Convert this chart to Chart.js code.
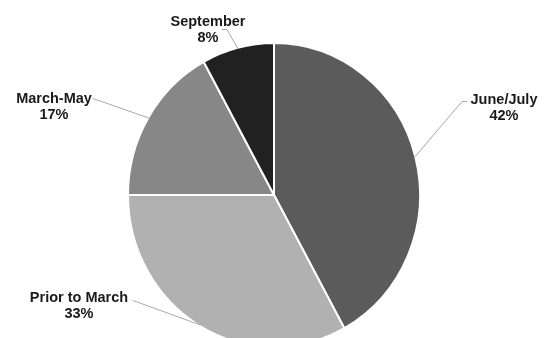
<!DOCTYPE html>
<html>
<head>
<meta charset="utf-8">
<script src="https://cdn.jsdelivr.net/npm/chart.js@4/dist/chart.umd.min.js"></script>
<style>
  html, body { margin: 0; padding: 0; background: #fff; overflow: hidden; }
  canvas { display: block; }
</style>
</head>
<body>
<canvas id="c" width="550" height="350"></canvas>
<script>
// ---- data ----
const categories = ["June/July", "Prior to March", "March-May", "September"];
const values = [42, 33, 17, 8];

// ---- styles / layout (not data) ----
const sliceColors = ["#5b5b5b", "#b1b1b1", "#878787", "#212121"];
const verticalStretch = 1.041;
// label anchor (center of the name line baseline) and leader start point for each slice
const labelLayout = [
  { x: 504, y: 104, lx: 467, ly: 101, hook: -5 },
  { x: 79,  y: 302, lx: 133, ly: 300, hook: 0 },
  { x: 54,  y: 103, lx: 93,  ly: 98,  hook: 0 },
  { x: 208, y: 26,  lx: 222, ly: 29,  hook: 5 }
];

const stretchPlugin = {
  id: 'stretch',
  beforeDatasetsDraw(chart) {
    const ctx = chart.ctx;
    const a = chart.getDatasetMeta(0).data[0];
    ctx.save();
    ctx.translate(a.x, a.y);
    ctx.scale(1, verticalStretch);
    ctx.translate(-a.x, -a.y);
  },
  afterDatasetsDraw(chart) {
    chart.ctx.restore();
  }
};

const labelPlugin = {
  id: 'pieLabels',
  afterDraw(chart) {
    const ctx = chart.ctx;
    const meta = chart.getDatasetMeta(0);
    ctx.save();
    meta.data.forEach((arc, i) => {
      const mid = (arc.startAngle + arc.endAngle) / 2;
      const r = arc.outerRadius - 1;
      const ex = arc.x + Math.cos(mid) * r;
      const ey = arc.y + Math.sin(mid) * r * verticalStretch;
      const L = labelLayout[i];
      ctx.strokeStyle = "#a8a8a8";
      ctx.lineWidth = 1;
      ctx.beginPath();
      ctx.moveTo(L.lx, L.ly + 0.5);
      let sx = L.lx;
      if (L.hook) { sx = L.lx + L.hook; ctx.lineTo(sx, L.ly + 0.5); }
      ctx.lineTo(ex, ey);
      ctx.stroke();

      ctx.fillStyle = "#1a1a1a";
      ctx.font = "bold 14.5px 'Liberation Sans', Arial, sans-serif";
      ctx.textAlign = "center";
      ctx.textBaseline = "alphabetic";
      ctx.fillText(categories[i], L.x, L.y);
      ctx.fillText(values[i] + "%", L.x, L.y + 16);
    });
    ctx.restore();
  }
};

new Chart(document.getElementById('c'), {
  type: 'pie',
  data: {
    labels: categories,
    datasets: [{
      data: values,
      backgroundColor: sliceColors,
      borderColor: "#ffffff",
      borderWidth: 2,
      hoverOffset: 0
    }]
  },
  options: {
    responsive: false,
    devicePixelRatio: 1,
    animation: false,
    layout: { padding: { top: 48, bottom: 8, left: 127, right: 129 } },
    plugins: {
      legend: { display: false },
      tooltip: { enabled: false },
      title: { display: false }
    }
  },
  plugins: [stretchPlugin, labelPlugin]
});
</script>
</body>
</html>
